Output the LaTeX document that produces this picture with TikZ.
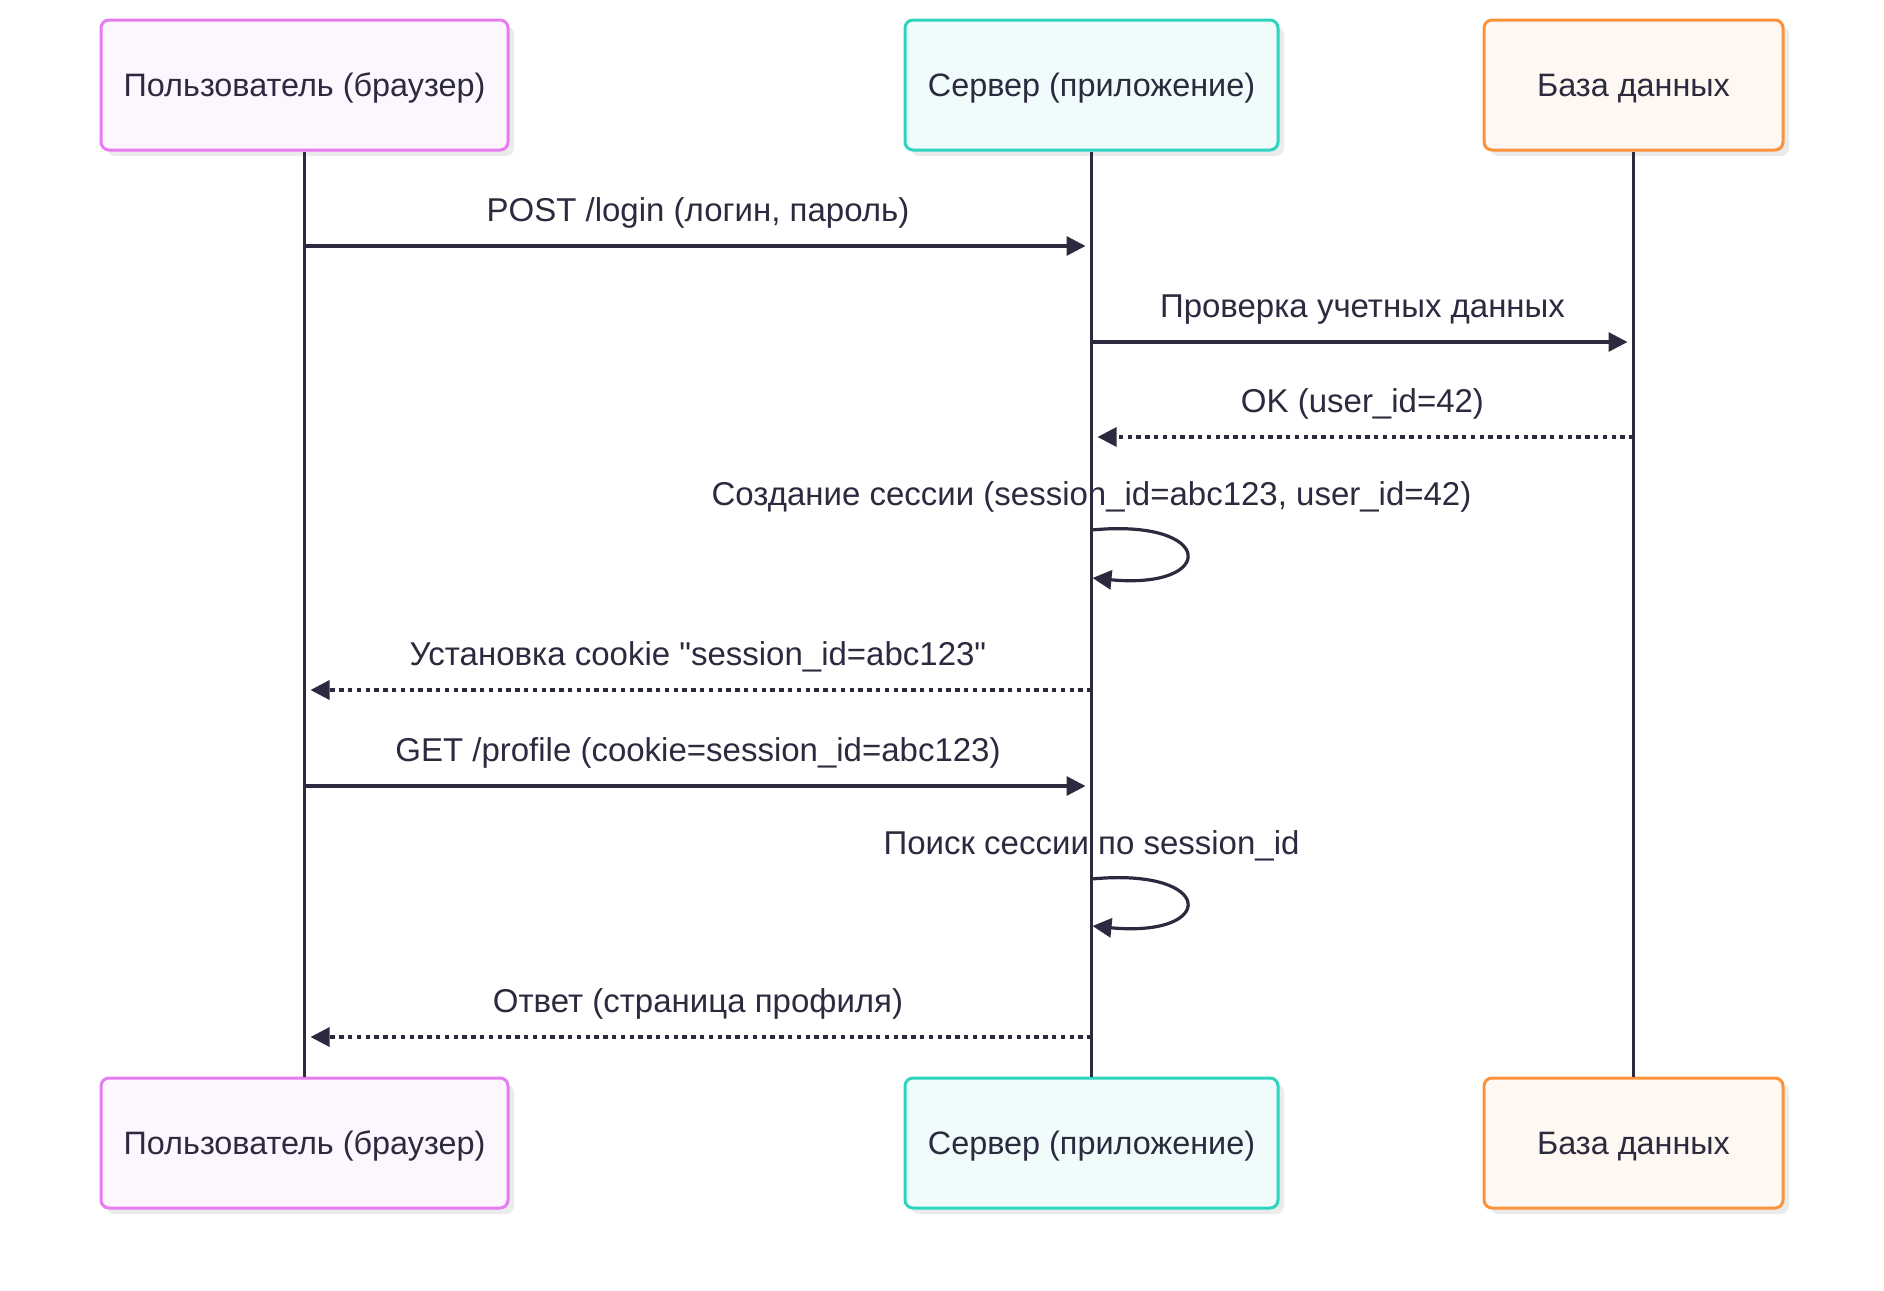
\documentclass[tikz,border=0pt]{standalone}
\usepackage{fontspec}
\newfontfamily\labelfont{Liberation Sans}
\usetikzlibrary{arrows.meta, positioning, shadows}
\definecolor{cink}{HTML}{2B2A3F}
\definecolor{cpink}{HTML}{E67CF0}
\definecolor{cteal}{HTML}{2DD4BF}
\definecolor{corange}{HTML}{FB923C}
\tikzset{
  every picture/.style={line width=1.5pt},
  actor/.style={draw=#1, fill=#1!7, rounded corners=4pt, minimum height=65pt, text=cink,
    font=\labelfont\fontsize{16.2}{19}\selectfont, text depth=0pt,
    drop shadow={shadow xshift=3pt, shadow yshift=-3pt, fill=black!8, opacity=1}},
  lifeline/.style={draw=cink, line width=1.5pt},
  call/.style={-{Triangle[length=9.5pt, width=9.5pt]}, draw=cink, line width=1.6pt},
  reply/.style={call, dash pattern=on 2.2pt off 2.2pt},
  msg/.style={font=\labelfont\fontsize{16.5}{19}\selectfont, text=cink, inner sep=0pt},
}

\begin{document}
\begin{tikzpicture}[x=0.5pt, y=-0.5pt]
  \useasboundingbox (0,0) rectangle (1884,1290);
  \foreach \n/\x/\w/\c/\t in {usr/304.5/203.5/cpink/Пользователь (браузер),
      srv/1091.5/186.5/cteal/Сервер (приложение), db/1633.5/149.5/corange/База данных} {
    \node[actor=\c, minimum width=\w pt] (\n-top) at (\x, 85) {\t};
    \node[actor=\c, minimum width=\w pt] (\n-bot) at (\x, 1143) {\t};
    \draw[lifeline] (\n-top) -- (\n-bot);
  }
  \foreach \i/\y in {1/246, 2/342, 3/437, 4/530, 5/690, 6/786, 7/879, 8/1037} {
    \coordinate (usr\i) at (304.5, \y);
    \coordinate (srv\i) at (1091.5, \y);
    \coordinate (db\i) at (1633.5, \y);
  }
  \coordinate (srv4e) at (1092.5, 578);
  \coordinate (srv7e) at (1092.5, 926);
  \draw[call, shorten >=3pt] (usr1) -- (srv1) node[msg, midway, above=8pt] (m1) {POST /login (логин, пароль)};
  \draw[call, shorten >=3pt] (srv2) -- (db2) node[msg, midway, above=8pt] (m2) {Проверка учетных данных};
  \draw[reply, shorten >=3pt] (db3) -- (srv3) node[msg, midway, above=8pt] (m3) {OK (user\_id=42)};
  \node[msg, above=8pt of srv4] (m4) {Создание сессии (session\_id=abc123, user\_id=42)};
  \draw[call] (srv4) .. controls +(125,-12) and +(125,12) .. (srv4e);
  \draw[reply, shorten >=3pt] (srv5) -- (usr5) node[msg, midway, above=8pt] (m5) {Установка cookie "session\_id=abc123"};
  \draw[call, shorten >=3pt] (usr6) -- (srv6) node[msg, midway, above=8pt] (m6) {GET /profile (cookie=session\_id=abc123)};
  \node[msg, above=8pt of srv7] (m7) {Поиск сессии по session\_id};
  \draw[call] (srv7) .. controls +(125,-12) and +(125,12) .. (srv7e);
  \draw[reply, shorten >=3pt] (srv8) -- (usr8) node[msg, midway, above=8pt] (m8) {Ответ (страница профиля)};
\end{tikzpicture}
\end{document}
